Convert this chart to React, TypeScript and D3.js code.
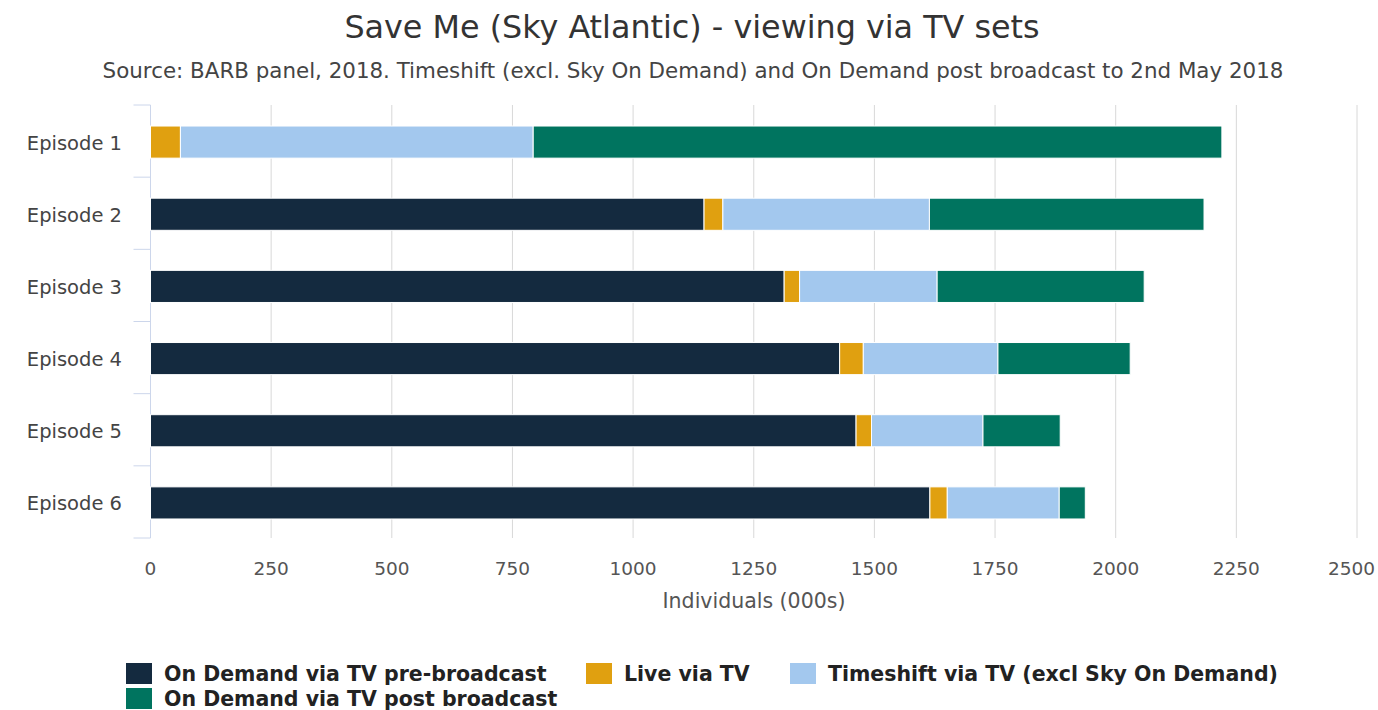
import React from "react";
import * as d3 from "d3";

const episodes = ["Episode 1", "Episode 2", "Episode 3", "Episode 4", "Episode 5", "Episode 6"];
const seriesNames = [
  "On Demand via TV pre-broadcast",
  "Live via TV",
  "Timeshift via TV (excl Sky On Demand)",
  "On Demand via TV post broadcast",
];
const seriesColors = ["#142a3f", "#e0a010", "#a3c8ee", "#00745f"];

// values in 000s
const preBroadcast = [0, 1147, 1313, 1428, 1462, 1615];
const live = [62, 39, 32, 49, 32, 36];
const timeshift = [731, 428, 285, 279, 231, 232];
const postBroadcast = [1427, 569, 429, 274, 160, 54];
const xTicks = [0, 250, 500, 750, 1000, 1250, 1500, 1750, 2000, 2250, 2500];

const width = 1378;
const height = 710;
const plot = { left: 150.5, right: 1357, top: 105, bottom: 538 };
const font = "'DejaVu Sans', 'Open Sans', sans-serif";

export default function App() {
  const rows = episodes.map((ep, i) => ({
    ep,
    s0: preBroadcast[i],
    s1: live[i],
    s2: timeshift[i],
    s3: postBroadcast[i],
  }));
  const stack = d3.stack<any>().keys(["s0", "s1", "s2", "s3"]);
  const layers = stack(rows);

  const x = d3.scaleLinear().domain([0, 2500]).range([plot.left, plot.right]);
  const y = d3.scaleBand().domain(episodes).range([plot.top, plot.bottom]).padding(0);
  const barH = y.bandwidth() * 0.445;

  // legend layout
  const legend = [
    { i: 0, x: 126, y: 663 },
    { i: 1, x: 586, y: 663 },
    { i: 2, x: 790, y: 663 },
    { i: 3, x: 126, y: 688 },
  ];

  return (
    <svg width={width} height={height} style={{ position: "absolute", left: 0, top: 0, background: "#fff" }}>
      <rect x={0} y={0} width={width} height={height} fill="#fff" />
      <text x={692} y={38} textAnchor="middle" fontFamily={font} fontSize={31.8} fill="#333">
        Save Me (Sky Atlantic) - viewing via TV sets
      </text>
      <text x={693} y={78} textAnchor="middle" fontFamily={font} fontSize={21.4} fill="#444">
        Source: BARB panel, 2018. Timeshift (excl. Sky On Demand) and On Demand post broadcast to 2nd May 2018
      </text>

      {/* grid */}
      {xTicks.map((t) => (
        <line key={t} x1={x(t)} x2={x(t)} y1={plot.top} y2={plot.bottom} stroke="#d8d8d8" strokeWidth={1} />
      ))}

      {/* y axis line and ticks */}
      <line x1={plot.left} x2={plot.left} y1={plot.top} y2={plot.bottom} stroke="#ccd6eb" />
      {episodes.concat(["__end"]).map((ep, i) => {
        const yy = i < episodes.length ? (y(ep) as number) : plot.bottom;
        return <line key={ep} x1={plot.left - 17} x2={plot.left} y1={yy} y2={yy} stroke="#ccd6eb" />;
      })}

      {/* bars */}
      {layers.map((layer, li) => (
        <g key={li}>
          {layer.map((d, j) => {
            const w = x(d[1]) - x(d[0]);
            if (w <= 0) return null;
            return (
              <rect
                key={j}
                x={x(d[0])}
                y={(y(episodes[j]) as number) + (y.bandwidth() - barH) / 2 + 1}
                width={w}
                height={barH}
                fill={seriesColors[li]}
                stroke="#fff"
                strokeWidth={1}
              />
            );
          })}
        </g>
      ))}

      {/* y labels */}
      {episodes.map((ep) => (
        <text
          key={ep}
          x={122}
          y={(y(ep) as number) + y.bandwidth() / 2 + 3}
          textAnchor="end"
          dominantBaseline="middle"
          fontFamily={font}
          fontSize={19.5}
          fill="#444"
        >
          {ep}
        </text>
      ))}

      {/* x tick labels (last one kept inside the edge) */}
      {xTicks.map((t, i) => {
        const last = i === xTicks.length - 1;
        return (
          <text
            key={t}
            x={last ? width - 3 : x(t)}
            y={575}
            textAnchor={last ? "end" : "middle"}
            fontFamily={font}
            fontSize={18.5}
            fill="#555"
          >
            {t}
          </text>
        );
      })}
      <text x={754} y={608} textAnchor="middle" fontFamily={font} fontSize={20.5} fill="#555">
        Individuals (000s)
      </text>

      {/* legend */}
      {legend.map((l) => (
        <g key={l.i}>
          <rect x={l.x} y={l.y} width={26} height={21} fill={seriesColors[l.i]} />
          <text x={l.x + 38} y={l.y + 18} fontFamily={font} fontSize={20.5} fontWeight="bold" fill="#222">
            {seriesNames[l.i]}
          </text>
        </g>
      ))}
    </svg>
  );
}
